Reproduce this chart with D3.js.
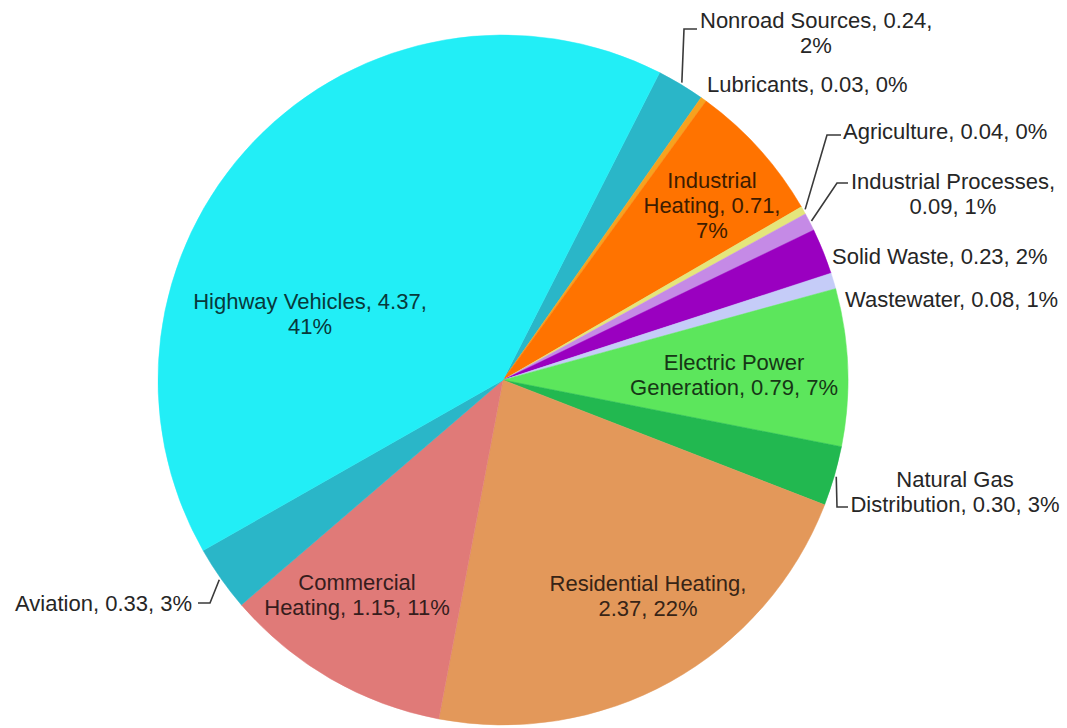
<!DOCTYPE html>
<html>
<head>
<meta charset="utf-8">
<script src="https://cdn.jsdelivr.net/npm/d3@7"></script>
<style>
  html, body { margin: 0; padding: 0; background: #fff; }
  svg { display: block; }
  text { font-family: "Liberation Sans", Arial, sans-serif; font-size: 22px; }
</style>
</head>
<body>
<svg id="chart" width="1067" height="728"></svg>
<script>
// Emission sources (million metric tons CO2e) in drawing order, clockwise
const categories = [
  "Nonroad Sources", "Lubricants", "Industrial Heating", "Agriculture",
  "Industrial Processes", "Solid Waste", "Wastewater", "Electric Power Generation",
  "Natural Gas Distribution", "Residential Heating", "Commercial Heating",
  "Aviation", "Highway Vehicles"
];
const values = [0.24, 0.03, 0.71, 0.04, 0.09, 0.23, 0.08, 0.79, 0.30, 2.37, 1.15, 0.33, 4.37];
const percents = ["2%", "0%", "7%", "0%", "1%", "2%", "1%", "7%", "3%", "22%", "11%", "3%", "41%"];
const colors = [
  "#2ab6c8", "#f7a21e", "#ff7300", "#e4e67c", "#c58ae6", "#9a00c0",
  "#c5ccf8", "#5ce65c", "#22b850", "#e3985a", "#e07a78", "#2ab6c8", "#22eef6"
];

// Label text, split into lines
const labelLines = [
  ["Nonroad Sources, 0.24,", "2%"],
  ["Lubricants, 0.03, 0%"],
  ["Industrial", "Heating, 0.71,", "7%"],
  ["Agriculture, 0.04, 0%"],
  ["Industrial Processes,", "0.09, 1%"],
  ["Solid Waste, 0.23, 2%"],
  ["Wastewater, 0.08, 1%"],
  ["Electric Power", "Generation, 0.79, 7%"],
  ["Natural Gas", "Distribution, 0.30, 3%"],
  ["Residential Heating,", "2.37, 22%"],
  ["Commercial", "Heating, 1.15, 11%"],
  ["Aviation, 0.33, 3%"],
  ["Highway Vehicles, 4.37,", "41%"]
];

// Layout: label anchor (x, first-line y), text-anchor, inside/outside, leader elbow
const labelLayout = [
  { x: 700, y: 20, anchor: "start", inside: false, elbow: [684, 29], end: [697, 29], lineCenter: true },
  { x: 707, y: 84, anchor: "start", inside: false },
  { x: 712, y: 180, anchor: "middle", inside: true },
  { x: 843, y: 131, anchor: "start", inside: false, elbow: [827, 135], end: [841, 135] },
  { x: 953, y: 181, anchor: "middle", inside: false, elbow: [837, 183], end: [848, 183] },
  { x: 832, y: 256, anchor: "start", inside: false },
  { x: 845, y: 299, anchor: "start", inside: false },
  { x: 734, y: 362, anchor: "middle", inside: true },
  { x: 955, y: 479, anchor: "middle", inside: false, elbow: [837, 507], end: [848, 507] },
  { x: 648, y: 583, anchor: "middle", inside: true },
  { x: 357, y: 582, anchor: "middle", inside: true },
  { x: 192, y: 603, anchor: "end", inside: false, elbow: [210, 603], end: [198, 603] },
  { x: 310, y: 301, anchor: "middle", inside: true }
];

const width = 1067, height = 728;
const cx = 503, cy = 380, radius = 345;
const lineGap = 25;
const startDeg = 27;

const svg = d3.select("#chart");
const g = svg.append("g").attr("transform", `translate(${cx},${cy})`);

const data = categories.map((c, i) => ({ name: c, value: values[i], i }));

const pie = d3.pie()
  .sort(null)
  .value(d => d.value)
  .startAngle(startDeg * Math.PI / 180)
  .endAngle(startDeg * Math.PI / 180 + 2 * Math.PI);

const arcs = pie(data);
const arc = d3.arc().innerRadius(0).outerRadius(radius);

g.selectAll("path.slice")
  .data(arcs)
  .join("path")
  .attr("class", "slice")
  .attr("d", arc)
  .attr("fill", d => colors[d.data.i])
  .attr("stroke", d => colors[d.data.i])
  .attr("stroke-width", 0.5);

// Leader lines for small slices
const edgePoint = (a, r) => {
  const m = (a.startAngle + a.endAngle) / 2;
  return [cx + r * Math.sin(m), cy - r * Math.cos(m)];
};

arcs.forEach(a => {
  const L = labelLayout[a.data.i];
  if (!L.elbow) return;
  const p0 = edgePoint(a, radius + 2);
  svg.append("path")
    .attr("d", d3.line()([p0, L.elbow, L.end]))
    .attr("fill", "none")
    .attr("stroke", "#3a3a3a")
    .attr("stroke-width", 1.6);
});

// Labels
arcs.forEach(a => {
  const i = a.data.i;
  const L = labelLayout[i];
  const fill = L.inside ? d3.color(colors[i]).darker(4).formatHex() : "#262626";
  const t = svg.append("text")
    .attr("text-anchor", L.anchor)
    .attr("fill", fill);
  labelLines[i].forEach((line, k) => {
    let x = L.x;
    let anchor = L.anchor;
    if (L.lineCenter && k > 0) { x = 816; anchor = "middle"; }
    t.append("tspan")
      .attr("x", x)
      .attr("y", L.y + k * lineGap)
      .attr("dy", "0.35em")
      .attr("text-anchor", anchor)
      .text(line);
  });
});
</script>
</body>
</html>
